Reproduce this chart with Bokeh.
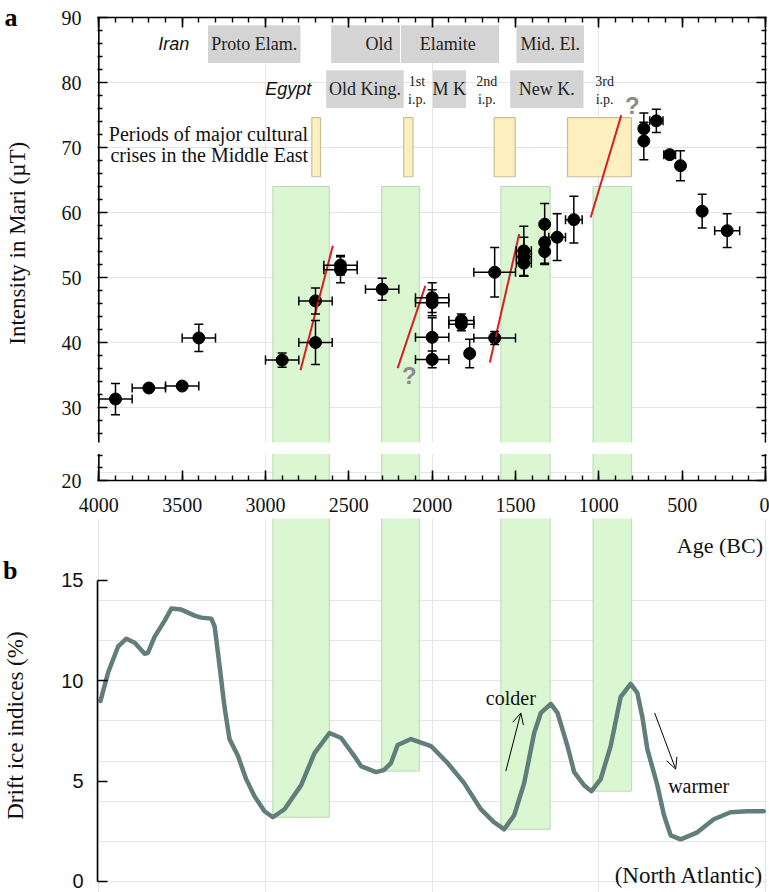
from bokeh.plotting import figure
from bokeh.models import (Range1d, FixedTicker, ColumnDataSource, Whisker, TeeHead,
                          Arrow, OpenHead, LinearAxis, NumeralTickFormatter)
from bokeh.layouts import column
from bokeh.embed import file_html
from bokeh.resources import INLINE
from bokeh.core.properties import value

SERIF = "Liberation Serif"
SANS = "Liberation Sans"

# ---------------- panel a: archaeointensity in Mari ----------------
mari_age = [3900, 3700, 3500, 3400, 2900, 2700, 2700, 2550, 2550, 2300,
            2000, 2000, 2000, 2000, 1825, 1825, 1775, 1625, 1625,
            1450, 1450, 1450, 1325, 1325, 1325, 1250, 1150,
            730, 730, 655, 575, 510, 380, 230]
mari_int = [31.3, 33.0, 33.3, 40.7, 37.3, 40.0, 46.4, 51.2, 51.9, 48.2,
            46.9, 46.1, 40.8, 37.4, 43.4, 42.8, 38.3, 50.8, 40.7,
            54.1, 53.2, 52.2, 58.2, 55.4, 54.0, 56.2, 58.9,
            72.9, 71.0, 74.1, 68.9, 67.2, 60.2, 57.2]
mari_age_err = [100, 100, 100, 100, 100, 100, 100, 100, 100, 100,
                100, 100, 100, 100, 75, 75, 0, 125, 125,
                45, 45, 45, 0, 0, 0, 50, 50,
                0, 0, 40, 35, 0, 0, 75]
mari_int_err = [2.4, 0.4, 0.4, 2.1, 1.1, 3.4, 2.0, 2.0, 1.5, 1.7,
                2.3, 2.0, 3.0, 1.3, 1.0, 1.0, 2.2, 3.8, 1.0,
                3.8, 3.0, 2.0, 3.2, 3.2, 2.0, 3.6, 3.6,
                2.4, 2.9, 1.8, 0.5, 2.3, 2.6, 2.6]

trend_age0 = [2790, 2207, 1654, 1049]
trend_int0 = [35.75, 36.06, 36.92, 59.23]
trend_age1 = [2596, 2041, 1478, 865]
trend_int1 = [54.88, 48.72, 56.68, 74.98]

question_age = [2137, 799]
question_int = [34.9, 76.4]

# cold episodes (green bands)
band_start = [2956, 2303, 1588, 1035]
band_end = [2617, 2077, 1292, 803]
band_top_a = 64.0
band_bottom_b = [3.2, 5.5, 2.6, 4.5]

# periods of major cultural crises (yellow)
crisis_start = [2722, 2171, 1628, 1188]
crisis_end = [2670, 2115, 1502, 805]
crisis_top, crisis_bottom = 74.6, 65.5

# Iran chronology
iran_labels = ["Proto Elam.", "Old", "Elamite", "Mid. El."]
iran_start = [3345, 2606, 2187, 1494]
iran_end = [2790, 2193, 1598, 1089]
iran_label_age = [3068, 2319, 1906, 1291]
iran_top, iran_bottom = 88.8, 83.0

# Egypt chronology
egypt_labels = ["Old King.", "M K", "New K."]
egypt_start = [2636, 1997, 1532]
egypt_end = [2171, 1797, 1092]
egypt_top, egypt_bottom = 81.9, 76.06
ip_labels = ["1st", "2nd", "3rd"]
ip_age = [2091, 1672, 965]

# ---------------- panel b: drift ice (North Atlantic) ----------------
ice_age = [3990, 3945, 3885, 3835, 3785, 3725, 3705, 3665, 3605, 3565,
           3505, 3425, 3385, 3325, 3305, 3275, 3246, 3216, 3165, 3116,
           3066, 3006, 2956, 2886, 2786, 2706, 2616, 2546, 2467, 2427,
           2337, 2290, 2247, 2207, 2127, 2007, 1907, 1808, 1708, 1628,
           1568, 1508, 1448, 1388, 1348, 1288, 1248, 1188, 1148, 1089,
           1044, 989, 929, 869, 809, 769, 739, 709, 649, 609,
           569, 509, 409, 310, 210, 110, 10]
ice_val = [9.0, 10.4, 11.7, 12.1, 11.9, 11.35, 11.4, 12.2, 13.0, 13.6,
           13.55, 13.25, 13.15, 13.1, 12.7, 10.7, 8.7, 7.1, 6.25, 5.1,
           4.25, 3.5, 3.2, 3.6, 4.8, 6.4, 7.4, 7.15, 6.25, 5.75,
           5.45, 5.55, 5.9, 6.8, 7.1, 6.75, 5.9, 4.9, 3.6, 2.95,
           2.6, 3.3, 4.9, 7.4, 8.4, 8.85, 8.4, 6.75, 5.45, 4.8,
           4.5, 5.1, 6.75, 9.2, 9.85, 9.4, 8.2, 6.6, 4.8, 3.3,
           2.3, 2.1, 2.45, 3.1, 3.45, 3.5, 3.5]

# axis geometry
AGE_OLD, AGE_YOUNG = 4000, 0
X_START, X_END = 4008, -6          # range padded ~1px so the frame lines sit inside
YA_START, YA_END = 18.77, 90       # broken intensity axis (bottom labelled 20)
BREAK_LO, BREAK_HI = 22.85, 24.6
YB_START, YB_END = -0.55, 18.09

GREEN = "#dbf7d2"
GREEN_LINE = "#bcd8b4"
YELLOW = "#fdf0bf"
YELLOW_LINE = "#cbbd98"
GREY_BOX = "#d4d4d4"
RED = "#d62020"
CURVE = "#617e7a"
TXT = "#111111"
NBSP = "\u00a0"


def style_axis(ax, font, size, standoff, show_labels=True):
    ax.axis_line_width = 1.6
    ax.major_tick_line_width = 1.6
    ax.minor_tick_line_width = 1.4
    ax.major_tick_in = 10
    ax.major_tick_out = 0
    ax.minor_tick_in = 5
    ax.minor_tick_out = 0
    ax.major_label_text_font = font
    if show_labels:
        ax.major_label_text_font_size = size
        ax.major_label_text_color = TXT
        ax.major_label_standoff = standoff
    else:
        ax.major_label_text_font_size = "1px"
        ax.major_label_text_color = None
        ax.major_label_standoff = 0
    ax.formatter = NumeralTickFormatter(format="0")


def letter_axis(tick, letter, title, bounds):
    ax = LinearAxis(ticker=FixedTicker(ticks=[tick], minor_ticks=[]), bounds=bounds,
                    axis_label=title, axis_label_standoff=-28)
    ax.major_label_overrides = {tick: letter}
    ax.axis_line_color = None
    ax.major_tick_line_color = None
    ax.minor_tick_line_color = None
    ax.major_tick_in = 0
    ax.major_tick_out = 0
    ax.major_label_standoff = 41
    ax.major_label_text_font = SERIF
    ax.major_label_text_font_style = "bold"
    ax.major_label_text_font_size = "26px"
    ax.major_label_text_color = "black"
    ax.axis_label_text_font = SERIF
    ax.axis_label_text_font_style = "normal"
    ax.axis_label_text_font_size = "23px"
    ax.axis_label_text_color = TXT
    return ax


# ======================= figure a =======================
pa = figure(width=769, height=518, x_range=Range1d(X_START, X_END),
            y_range=Range1d(YA_START, YA_END),
            output_backend="svg", toolbar_location=None,
            x_axis_location=None, y_axis_location=None,
            min_border_left=96, min_border_right=3, min_border_top=17, min_border_bottom=38)
pa.outline_line_color = None

xt = FixedTicker(ticks=list(range(AGE_YOUNG, AGE_OLD + 1, 500)),
                 minor_ticks=list(range(AGE_YOUNG, AGE_OLD + 1, 100)))
ya_minor = [20.7, 22.6] + [v for v in range(26, 90, 2) if v % 10]
yt = FixedTicker(ticks=[YA_START, 30, 40, 50, 60, 70, 80, 90], minor_ticks=ya_minor)

ax_b = LinearAxis(ticker=xt)
style_axis(ax_b, SERIF, "20px", 17)
pa.add_layout(ax_b, "below")
ax_t = LinearAxis(ticker=xt)
style_axis(ax_t, SERIF, "20px", 0, show_labels=False)
pa.add_layout(ax_t, "above")
ay_l = LinearAxis(ticker=yt)
style_axis(ay_l, SERIF, "20px", 16)
ay_l.axis_line_color = None
ay_l.major_label_overrides = {YA_START: "20"}
pa.add_layout(ay_l, "left")
pa.add_layout(letter_axis(90, "a", NBSP * 2 + "Intensity in Mari (\u00b5T)", (31, 90)), "left")
ay_r = LinearAxis(ticker=yt)
style_axis(ay_r, SERIF, "20px", 0, show_labels=False)
ay_r.axis_line_color = None
pa.add_layout(ay_r, "right")

# green bands (panel a part)
pa.quad(left=band_start, right=band_end, top=band_top_a, bottom=YA_START - 5,
        fill_color=GREEN, line_color=GREEN_LINE, line_width=1)

# chronology boxes
pa.quad(left=iran_start, right=iran_end, top=iran_top, bottom=iran_bottom,
        fill_color=GREY_BOX, line_color=None)
pa.quad(left=egypt_start, right=egypt_end, top=egypt_top, bottom=egypt_bottom,
        fill_color=GREY_BOX, line_color=None)
iran_y = (iran_top + iran_bottom) / 2
egypt_y = (egypt_top + egypt_bottom) / 2
pa.text(x=iran_label_age, y=[iran_y] * len(iran_labels), text=iran_labels,
        text_font=value(SERIF), text_font_size="18px", text_align="center",
        text_baseline="middle", text_color="#222222")
pa.text(x=[(s + e) / 2 for s, e in zip(egypt_start, egypt_end)], y=[egypt_y] * len(egypt_labels),
        text=egypt_labels, text_font=value(SERIF), text_font_size="18px",
        text_align="center", text_baseline="middle", text_color="#222222")
pa.text(x=ip_age, y=[80.2] * 3, text=ip_labels, text_font=value(SERIF), text_font_size="14px",
        text_align="center", text_baseline="middle", text_color="#222222")
pa.text(x=ip_age, y=[77.4] * 3, text=["i.p."] * 3, text_font=value(SERIF), text_font_size="14px",
        text_align="center", text_baseline="middle", text_color="#222222")
pa.text(x=[3457, 2726], y=[iran_y, egypt_y], text=["Iran", "Egypt"], text_font=value(SANS),
        text_font_style="italic", text_font_size="18px", text_align="right",
        text_baseline="middle", text_color=TXT)

# crises
pa.quad(left=crisis_start, right=crisis_end, top=crisis_top, bottom=crisis_bottom,
        fill_color=YELLOW, line_color=YELLOW_LINE, line_width=1.2)
pa.text(x=[2744, 2744], y=[72.1, 68.9],
        text=["Periods of major cultural", "crises in the Middle East"],
        text_font=value(SERIF), text_font_size="20px", text_align="right",
        text_baseline="middle", text_color=TXT)

# axis break (white gap) and the frame sides with the gap
pa.quad(left=X_START, right=X_END, bottom=BREAK_LO, top=BREAK_HI,
        fill_color="white", line_color=None)
pa.segment(x0=[AGE_OLD, AGE_OLD, AGE_YOUNG, AGE_YOUNG], x1=[AGE_OLD, AGE_OLD, AGE_YOUNG, AGE_YOUNG],
           y0=[YA_START, BREAK_HI, YA_START, BREAK_HI], y1=[BREAK_LO, YA_END, BREAK_LO, YA_END],
           line_color="black", line_width=1.6)

# error bars and data
xs = [(a, v, e) for a, v, e in zip(mari_age, mari_int, mari_age_err) if e > 0]
src_x = ColumnDataSource(dict(y=[t[1] for t in xs], lo=[t[0] - t[2] for t in xs],
                              hi=[t[0] + t[2] for t in xs]))
ys = [(a, v, e) for a, v, e in zip(mari_age, mari_int, mari_int_err) if e > 0]
src_y = ColumnDataSource(dict(x=[t[0] for t in ys], lo=[t[1] - t[2] for t in ys],
                              hi=[t[1] + t[2] for t in ys]))
pa.add_layout(Whisker(source=src_x, base="y", lower="lo", upper="hi", dimension="width",
                      line_width=1.5, line_color="black", level="annotation",
                      lower_head=TeeHead(size=9, line_width=1.5),
                      upper_head=TeeHead(size=9, line_width=1.5)))
pa.add_layout(Whisker(source=src_y, base="x", lower="lo", upper="hi", dimension="height",
                      line_width=1.5, line_color="black", level="annotation",
                      lower_head=TeeHead(size=9, line_width=1.5),
                      upper_head=TeeHead(size=9, line_width=1.5)))
pa.scatter(x=mari_age, y=mari_int, size=12, color="black")

pa.segment(x0=trend_age0, y0=trend_int0, x1=trend_age1, y1=trend_int1,
           line_color=RED, line_width=2)
pa.text(x=question_age, y=question_int, text=["?", "?"], text_font=value(SANS),
        text_font_style="bold", text_font_size="24px", text_align="center",
        text_baseline="middle", text_color="#8c8c8c")

# ======================= figure b =======================
pb = figure(width=769, height=374, x_range=pa.x_range, y_range=Range1d(YB_START, YB_END),
            output_backend="svg", toolbar_location=None,
            x_axis_location=None, y_axis_location=None,
            min_border_left=96, min_border_right=3, min_border_top=0, min_border_bottom=0)
pb.outline_line_color = None
ayb = LinearAxis(ticker=FixedTicker(ticks=[0, 5, 10, 15], minor_ticks=[]), bounds=(0, 15))
style_axis(ayb, SANS, "20px", 14)
pb.add_layout(ayb, "left")
pb.add_layout(letter_axis(15.5, "b", "Drift ice indices (%)" + NBSP * 7, (YB_START, 15.5)), "left")

pb.quad(left=band_start, right=band_end, top=YB_END + 2, bottom=band_bottom_b,
        fill_color=GREEN, line_color=GREEN_LINE, line_width=1)
pb.line(x=ice_age, y=ice_val, line_color=CURVE, line_width=4.5, line_join="round",
        line_cap="round")

pb.add_layout(Arrow(x_start=1558, y_start=5.5, x_end=1468, y_end=8.4, line_width=1,
                    end=OpenHead(size=11, line_width=1)))
pb.add_layout(Arrow(x_start=665, y_start=8.4, x_end=539, y_end=5.6, line_width=1,
                    end=OpenHead(size=11, line_width=1)))
pb.text(x=[1528, 401], y=[9.16, 4.75], text=["colder", "warmer"], text_font=value(SERIF),
        text_font_size="20px", text_align="center", text_baseline="middle", text_color=TXT)
pb.text(x=[15], y=[16.73], text=["Age (BC)"], text_font=value(SERIF),
        text_font_size="22px", text_align="right", text_baseline="middle", text_color=TXT)
pb.text(x=[12], y=[0.3], text=["(North Atlantic)"], text_font=value(SERIF),
        text_font_size="23px", text_align="right", text_baseline="middle", text_color=TXT)

layout = column(pa, pb, spacing=0)
open("out.html", "w").write(file_html(layout, INLINE))
